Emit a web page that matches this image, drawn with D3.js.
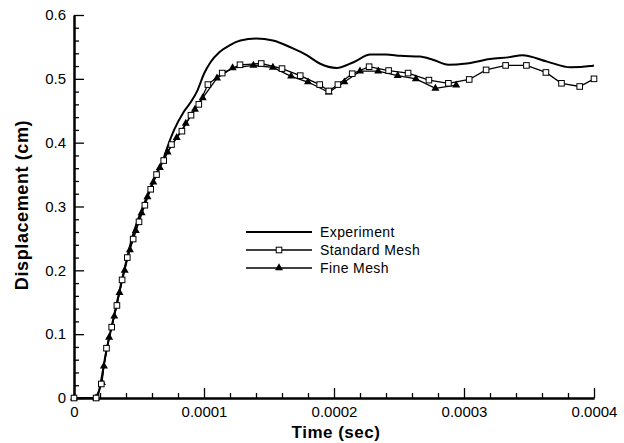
<!DOCTYPE html>
<html><head><meta charset="utf-8">
<script src="https://cdn.jsdelivr.net/npm/d3@7"></script>
<style>
html,body{margin:0;padding:0;background:#fff;}
svg{display:block;}
text{font-family:"Liberation Sans",Arial,sans-serif;fill:#000;}
</style></head>
<body>
<svg id="c" width="624" height="443"></svg>
<script>
// ---- data (time in units of 1e-4 s, displacement in cm) ----
const expT = [0,0.17,0.25,0.35,0.45,0.55,0.63,0.69,0.72,0.77,0.84,0.90,0.95,1.00,1.05,1.12,1.20,1.28,1.40,1.53,1.68,1.79,1.89,2.02,2.15,2.28,2.40,2.51,2.66,2.76,2.88,3.02,3.20,3.35,3.45,3.64,3.82,3.97,4.00];
const expY = [0,0,0.075,0.168,0.253,0.31,0.35,0.376,0.394,0.42,0.447,0.464,0.482,0.508,0.526,0.542,0.553,0.560,0.563,0.560,0.548,0.537,0.524,0.517,0.526,0.538,0.538,0.536,0.535,0.530,0.522,0.524,0.531,0.534,0.537,0.527,0.518,0.520,0.521];

const stdT = [0,0.17,0.21,0.25,0.29,0.33,0.37,0.41,0.455,0.50,0.545,0.59,0.635,0.69,0.75,0.83,0.90,0.96,1.03,1.14,1.277,1.44,1.60,1.74,1.89,1.96,2.03,2.14,2.27,2.42,2.57,2.73,2.88,3.04,3.17,3.32,3.48,3.63,3.75,3.89,4.00];
const stdY = [0,0,0.022,0.078,0.111,0.145,0.185,0.220,0.249,0.276,0.302,0.327,0.350,0.372,0.397,0.418,0.443,0.460,0.491,0.509,0.522,0.524,0.516,0.505,0.491,0.481,0.491,0.508,0.519,0.513,0.509,0.498,0.493,0.499,0.514,0.521,0.521,0.510,0.493,0.488,0.500];

const fineT = [0,0.17,0.215,0.23,0.27,0.31,0.35,0.39,0.43,0.475,0.52,0.565,0.61,0.66,0.72,0.79,0.86,0.93,0.99,1.10,1.22,1.38,1.53,1.67,1.80,1.96,2.08,2.20,2.34,2.49,2.63,2.78,2.94];
const fineY = [0,0,0.024,0.05,0.095,0.128,0.165,0.200,0.232,0.262,0.290,0.315,0.338,0.361,0.385,0.408,0.430,0.452,0.470,0.501,0.517,0.521,0.518,0.504,0.495,0.479,0.495,0.512,0.512,0.505,0.500,0.485,0.490];

const xTicks = [0,0.0001,0.0002,0.0003,0.0004];
const yTicks = [0,0.1,0.2,0.3,0.4,0.5,0.6];
const seriesNames = ["Experiment","Standard Mesh","Fine Mesh"];
const xTitle = "Time (sec)";
const yTitle = "Displacement (cm)";

// ---- chart ----
const svg = d3.select("#c");
const x = d3.scaleLinear().domain([0,0.0004]).range([74,594]);
const y = d3.scaleLinear().domain([0,0.6]).range([398,15]);
const toPts = (T,Y) => T.map((t,i)=>({t:t*1e-4, v:Y[i]}));
const expD = toPts(expT,expY), stdD = toPts(stdT,stdY), fineD = toPts(fineT,fineY);

// minor ticks
const xMinor = d3.range(0,0.0004+1e-12,0.00002).filter(v=>Math.abs(v/0.0001-Math.round(v/0.0001))>1e-6);
const yMinor = d3.range(0,0.6+1e-9,0.02).filter(v=>Math.abs(v/0.1-Math.round(v/0.1))>1e-6);

const gx = svg.append("g").attr("transform","translate(0,398)");
gx.call(d3.axisBottom(x).tickValues(xMinor).tickSize(-5).tickSizeOuter(0).tickFormat(""));
gx.append("g").call(d3.axisBottom(x).tickValues(xTicks).tickSize(-10).tickSizeOuter(0).tickPadding(8)
  .tickFormat(d=>d===0?"0":d.toFixed(4)));
const gy = svg.append("g").attr("transform","translate(74,0)");
gy.call(d3.axisLeft(y).tickValues(yMinor).tickSize(-5).tickSizeOuter(0).tickFormat(""));
gy.append("g").call(d3.axisLeft(y).tickValues(yTicks).tickSize(-10).tickSizeOuter(0).tickPadding(8)
  .tickFormat(d=>d===0?"0":d.toFixed(1)));
svg.selectAll(".domain").attr("stroke","#000").attr("stroke-width",2);
svg.selectAll(".tick line").attr("stroke","#000").attr("stroke-width",1.3);
svg.selectAll(".tick text").style("font-size","15px").attr("fill","#000");

// titles
svg.append("text").attr("x",336).attr("y",438).attr("text-anchor","middle")
  .style("font-size","17px").style("font-weight","bold").style("letter-spacing","0.5px").text(xTitle);
svg.append("text").attr("transform","translate(28,205) rotate(-90)").attr("text-anchor","middle")
  .style("font-size","18px").style("font-weight","bold").style("letter-spacing","0.6px").text(yTitle);

// lines
const line = d3.line().x(d=>x(d.t)).y(d=>y(d.v));
svg.append("path").datum(expD).attr("fill","none").attr("stroke","#000").attr("stroke-width",2)
  .attr("d", line.curve(d3.curveMonotoneX));
const lin = d3.line().x(d=>x(d.t)).y(d=>y(d.v));
svg.append("path").datum(stdD).attr("fill","none").attr("stroke","#000").attr("stroke-width",1.3).attr("d",lin);
svg.append("path").datum(fineD).attr("fill","none").attr("stroke","#000").attr("stroke-width",1.3).attr("d",lin);

const tri = d3.symbol().type(d3.symbolTriangle).size(28);
svg.append("g").selectAll("path").data(fineD).join("path")
  .attr("transform",d=>`translate(${x(d.t)},${y(d.v)})`).attr("d",tri).attr("fill","#000");
svg.append("g").selectAll("rect").data(stdD).join("rect")
  .attr("x",d=>x(d.t)-2.8).attr("y",d=>y(d.v)-2.8).attr("width",5.6).attr("height",5.6)
  .attr("fill","#fff").attr("stroke","#000").attr("stroke-width",1);

// legend
const lg = svg.append("g");
const rows = [232,250,268];
seriesNames.forEach((n,i)=>{
  lg.append("line").attr("x1",246).attr("x2",312).attr("y1",rows[i]).attr("y2",rows[i])
    .attr("stroke","#000").attr("stroke-width", i===0?2:1.3);
  if(i===1) lg.append("rect").attr("x",276.2).attr("y",rows[i]-2.8).attr("width",5.6).attr("height",5.6)
    .attr("fill","#fff").attr("stroke","#000");
  if(i===2) lg.append("path").attr("transform",`translate(279,${rows[i]})`).attr("d",tri).attr("fill","#000");
  lg.append("text").attr("x",320).attr("y",rows[i]).attr("dy","0.35em")
    .style("font-size","14px").style("letter-spacing","0.4px").text(n);
});
</script>
</body></html>
